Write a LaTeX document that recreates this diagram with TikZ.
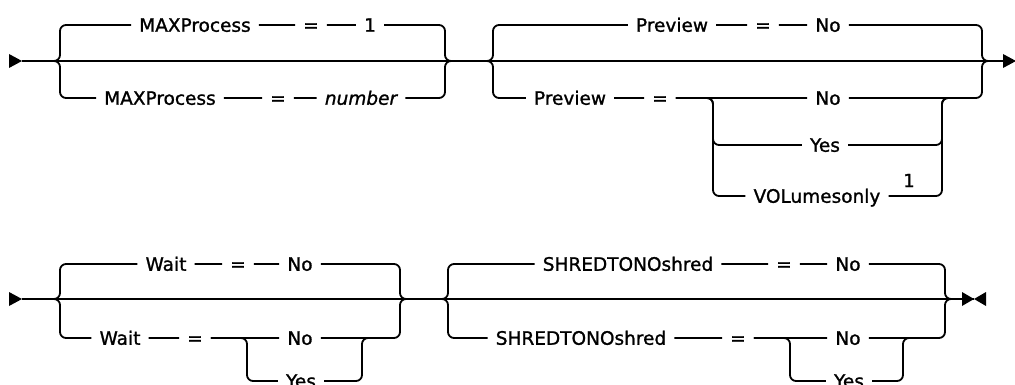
\documentclass[tikz,border=0pt]{standalone}
\usepackage{fontspec}
\setmainfont{DejaVu Sans}
\newfontfamily\railfont{DejaVu Sans}[FakeBold=1.2]
\usetikzlibrary{shapes.geometric}

\begin{document}
\begin{tikzpicture}[x=1pt, y=-1pt,
  rail/.style={line width=1.8pt, rounded corners=6pt},
  kw/.style={font=\railfont\fontsize{18.5}{22}\selectfont, inner xsep=8pt, inner ysep=2pt,
             text height=13.5pt, text depth=0pt},
  var/.style={kw, font=\railfont\fontsize{18.5}{22}\selectfont\itshape},
  fn/.style={font=\railfont\fontsize{18}{20}\selectfont, inner sep=0pt},
  tipmark/.style={fill=black}
]
\useasboundingbox (0,0) rectangle (1015,385);

% row 1
\coordinate (s1) at (22,61);
\coordinate (e1) at (1003,61);
\fill[tipmark] (s1) -- ++(-13,-7) -- ++(0,14) -- cycle;
\fill[tipmark] (e1) -- ++(0,-7) -- ++(13,7) -- ++(-13,7) -- cycle;
\coordinate (r1a) at (53,61);
\coordinate (g1a) at (60,61);
\coordinate (g1b) at (445,61);
\coordinate (r1b) at (453,61);
\coordinate (r1c) at (486,61);
\coordinate (g2a) at (493,61);
\coordinate (g2b) at (982,61);
\coordinate (r1d) at (989,61);
\coordinate (h2a) at (713,98);
\coordinate (h2b) at (942,98);
\coordinate (h2c) at (962,98);

\node[kw] (max1) at (195,25) {MAXProcess\hspace{6pt}};
\node[kw] (eq1) at (311,25) {=};
\node[kw] (one1) at (370,25) {1};
\node[kw] (max2) at (160,98) {MAXProcess\hspace{6pt}};
\node[kw] (eq2) at (278,98) {=};
\node[var] (num2) at (361,98) {number};

\node[kw] (pre1) at (672,25) {Preview};
\node[kw] (eq3) at (763,25) {=};
\node[kw] (no3) at (828,25) {No};
\node[kw] (pre2) at (570,98) {Preview};
\node[kw] (eq4) at (660,98) {=};
\node[kw] (no4) at (828,98) {No};
\node[kw] (yes4) at (825,145) {Yes};
\node[kw] (vol4) at (817,196) {VOLumesonly};
\node[fn, anchor=base] (fn1) at (909,187) {1};

\draw[rail] (s1) -- (e1);
\draw[rail] (r1a) -- (g1a) |- (max1);
\draw[rail] (max1) -- (eq1) -- (one1) -| (g1b) -- (r1b);
\draw[rail] (r1a) -- (g1a) |- (max2);
\draw[rail] (max2) -- (eq2) -- (num2) -| (g1b) -- (r1b);

\draw[rail] (r1c) -- (g2a) |- (pre1);
\draw[rail] (pre1) -- (eq3) -- (no3) -| (g2b) -- (r1d);
\draw[rail] (r1c) -- (g2a) |- (pre2);
\draw[rail] (pre2) -- (eq4) -- (no4) -| (g2b) -- (r1d);
\draw[rail] (eq4) -- (h2a) |- (yes4);
\draw[rail] (yes4) -| (h2b) -- (h2c);
\draw[rail] (eq4) -- (h2a) |- (vol4);
\draw[rail] (vol4) -| (h2b) -- (h2c);

% row 2
\coordinate (s2) at (22,299);
\coordinate (e2) at (974,299);
\fill[tipmark] (s2) -- ++(-13,-7) -- ++(0,14) -- cycle;
\fill[tipmark] (e2) -- ++(-12,-7) -- ++(0,14) -- cycle;
\fill[tipmark] (e2) -- ++(12,-7) -- ++(0,14) -- cycle;
\coordinate (r2a) at (53,299);
\coordinate (g3a) at (60,299);
\coordinate (g3b) at (400,299);
\coordinate (r2b) at (407,299);
\coordinate (r2c) at (441,299);
\coordinate (g4a) at (448,299);
\coordinate (g4b) at (945,299);
\coordinate (r2d) at (952,299);
\coordinate (h3a) at (247,338);
\coordinate (h3b) at (362,338);
\coordinate (h3c) at (380,338);
\coordinate (h4a) at (790,338);
\coordinate (h4b) at (903,338);
\coordinate (h4c) at (922,338);

\node[kw] (wait1) at (166,264) {Wait};
\node[kw] (eq5) at (238,264) {=};
\node[kw] (no5) at (300,264) {No};
\node[kw] (wait2) at (120,338) {Wait};
\node[kw] (eq6) at (195,338) {=};
\node[kw] (no6) at (300,338) {No};
\node[kw] (yes6) at (301,381) {Yes};

\node[kw] (shr1) at (628,264) {SHREDTONOshred\hspace{10pt}};
\node[kw] (eq7) at (784,264) {=};
\node[kw] (no7) at (848,264) {No};
\node[kw] (shr2) at (581,338) {SHREDTONOshred\hspace{10pt}};
\node[kw] (eq8) at (738,338) {=};
\node[kw] (no8) at (848,338) {No};
\node[kw] (yes8) at (849,381) {Yes};

\draw[rail] (s2) -- (e2);
\draw[rail] (r2a) -- (g3a) |- (wait1);
\draw[rail] (wait1) -- (eq5) -- (no5) -| (g3b) -- (r2b);
\draw[rail] (r2a) -- (g3a) |- (wait2);
\draw[rail] (wait2) -- (eq6) -- (no6) -| (g3b) -- (r2b);
\draw[rail] (eq6) -- (h3a) |- (yes6);
\draw[rail] (yes6) -| (h3b) -- (h3c);

\draw[rail] (r2c) -- (g4a) |- (shr1);
\draw[rail] (shr1) -- (eq7) -- (no7) -| (g4b) -- (r2d);
\draw[rail] (r2c) -- (g4a) |- (shr2);
\draw[rail] (shr2) -- (eq8) -- (no8) -| (g4b) -- (r2d);
\draw[rail] (eq8) -- (h4a) |- (yes8);
\draw[rail] (yes8) -| (h4b) -- (h4c);
\end{tikzpicture}
\end{document}
